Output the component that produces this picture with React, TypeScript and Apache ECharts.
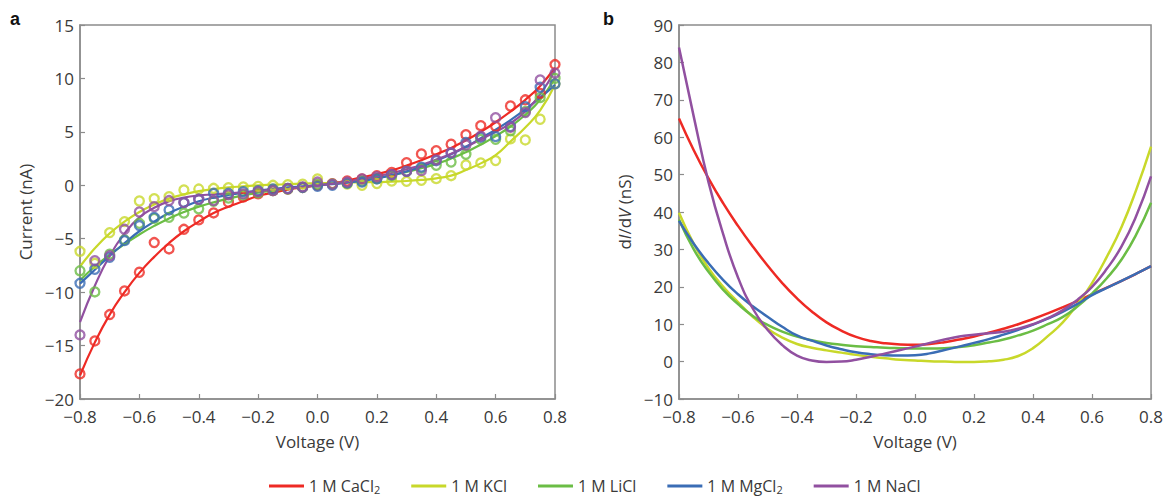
import React, { useEffect, useRef } from "react";
import * as echarts from "echarts";

// Shared voltage grid (V), step 0.05
const VOLT = [
  -0.8, -0.75, -0.7, -0.65, -0.6, -0.55, -0.5, -0.45, -0.4, -0.35, -0.3, -0.25, -0.2, -0.15, -0.1, -0.05,
  0, 0.05, 0.1, 0.15, 0.2, 0.25, 0.3, 0.35, 0.4, 0.45, 0.5, 0.55, 0.6, 0.65, 0.7, 0.75, 0.8,
];

const NAMES = ["1 M CaCl2", "1 M KCl", "1 M LiCl", "1 M MgCl2", "1 M NaCl"];
const COLORS = ["#ee2a24", "#c8d82a", "#6bbd45", "#3a6db5", "#9150a0"];

// Panel a: measured current points (nA)
const PTS_CACL2 = [-17.65, -14.57, -12.1, -9.89, -8.14, -5.36, -5.96, -4.12, -3.24, -2.59, -1.6, -1.1, -0.8, -0.5, -0.35, -0.2, 0, 0.15, 0.4, 0.6, 0.9, 1.2, 2.12, 2.93, 3.24, 3.84, 4.74, 5.58, 5.52, 7.42, 8.0, 8.6, 11.3];
const PTS_KCL = [-6.18, -7.3, -4.43, -3.4, -1.47, -1.25, -1.06, -0.44, -0.35, -0.28, -0.22, -0.15, -0.1, 0.0, 0.05, 0.1, 0.6, 0.1, 0.12, 0.0, 0.16, 0.4, 0.37, 0.47, 0.62, 0.9, 1.9, 2.09, 2.31, 4.34, 4.24, 6.18, 9.5];
const PTS_LICL = [-8.0, -9.98, -6.45, -5.1, -3.56, -3.1, -3.0, -2.6, -2.2, -1.5, -1.2, -0.9, -0.7, -0.5, -0.35, -0.2, 0.1, 0.1, 0.2, 0.4, 0.6, 0.9, 1.3, 1.6, 1.87, 2.18, 2.9, 4.3, 4.3, 5.1, 6.9, 8.2, 10.0];
const PTS_MGCL2 = [-9.17, -7.86, -6.74, -5.18, -3.77, -3.0, -2.31, -1.62, -1.31, -0.75, -0.75, -0.6, -0.5, -0.35, -0.3, -0.2, -0.1, 0.0, 0.2, 0.3, 0.6, 1.0, 1.3, 1.7, 2.3, 3.0, 4.0, 4.5, 4.55, 5.5, 7.36, 9.17, 9.5];
const PTS_NACL = [-14.0, -7.05, -6.6, -4.12, -2.5, -2.0, -1.43, -1.62, -1.31, -1.43, -0.9, -0.8, -0.6, -0.5, -0.3, -0.15, 0.3, 0.1, 0.3, 0.6, 0.8, 1.0, 1.3, 1.37, 2.37, 3.06, 3.77, 4.6, 6.33, 5.43, 6.8, 9.86, 10.5];

// Panel a: fitted curves (nA)
const FIT_CACL2 = [-17.8, -14.7, -12.1, -10.0, -8.2, -6.7, -5.4, -4.3, -3.4, -2.6, -2.0, -1.5, -1.0, -0.7, -0.4, -0.2, 0, 0.2, 0.45, 0.75, 1.05, 1.4, 1.85, 2.35, 2.9, 3.5, 4.2, 5.0, 5.9, 6.9, 8.0, 9.3, 11.0];
const FIT_KCL = [-7.6, -5.9, -4.5, -3.4, -2.5, -1.8, -1.25, -0.85, -0.55, -0.35, -0.2, -0.1, 0.0, 0.05, 0.1, 0.15, 0.2, 0.22, 0.25, 0.28, 0.3, 0.35, 0.4, 0.5, 0.65, 0.9, 1.43, 2.05, 2.83, 4.1, 5.4, 7.0, 9.4];
const FIT_LICL = [-8.9, -7.6, -6.5, -5.5, -4.6, -3.8, -3.1, -2.5, -2.0, -1.6, -1.25, -0.95, -0.7, -0.5, -0.3, -0.15, 0, 0.15, 0.3, 0.5, 0.7, 0.95, 1.25, 1.6, 2.0, 2.5, 3.1, 3.8, 4.6, 5.5, 6.6, 8.0, 10.0];
const FIT_MGCL2 = [-9.2, -7.9, -6.6, -5.4, -4.3, -3.4, -2.6, -2.0, -1.5, -1.15, -0.9, -0.7, -0.5, -0.35, -0.2, -0.1, 0, 0.1, 0.25, 0.4, 0.65, 0.95, 1.3, 1.75, 2.3, 2.9, 3.6, 4.4, 5.2, 6.1, 7.1, 8.2, 9.4];
const FIT_NACL = [-12.8, -9.4, -6.6, -4.5, -3.0, -2.1, -1.5, -1.15, -0.95, -0.85, -0.75, -0.65, -0.55, -0.4, -0.3, -0.15, 0, 0.15, 0.35, 0.6, 0.85, 1.15, 1.5, 1.9, 2.4, 2.95, 3.6, 4.3, 5.0, 5.8, 6.9, 8.5, 10.8];

// Panel b: differential conductance dI/dV (nS)
const G_CACL2 = [65.0, 56.5, 49.0, 42.3, 36.3, 30.8, 25.7, 21.0, 16.9, 13.4, 10.5, 8.3, 6.6, 5.5, 4.9, 4.6, 4.5, 4.7, 5.2, 5.9, 6.7, 7.7, 8.8, 10.0, 11.4, 12.9, 14.5, 16.2, 18.0, 19.8, 21.6, 23.5, 25.5];
const G_KCL = [39.8, 31.5, 25.0, 20.0, 15.9, 12.0, 8.8, 6.4, 4.7, 3.7, 3.0, 2.4, 1.8, 1.3, 0.9, 0.5, 0.3, 0.1, 0.0, -0.1, -0.1, 0.1, 0.5, 1.5, 3.6, 6.8, 10.4, 15.3, 21.0, 28.0, 36.0, 46.0, 57.5];
const G_LICL = [38.0, 30.0, 24.0, 19.2, 15.4, 12.2, 9.8, 8.0, 6.7, 5.7, 5.0, 4.5, 4.1, 3.9, 3.7, 3.6, 3.5, 3.5, 3.6, 3.9, 4.4, 5.1, 5.9, 7.0, 8.3, 10.0, 11.9, 14.7, 18.2, 22.3, 27.3, 34.0, 42.5];
const G_MGCL2 = [37.6, 31.5, 26.3, 21.8, 18.0, 14.8, 12.0, 9.3, 7.0, 5.6, 4.3, 3.3, 2.5, 2.0, 1.7, 1.6, 1.7, 2.2, 3.1, 4.0, 5.0, 6.0, 7.2, 8.5, 9.9, 11.5, 13.3, 15.4, 17.8, 19.7, 21.6, 23.5, 25.5];
const G_NACL = [84.0, 65.5, 48.0, 34.0, 22.5, 14.2, 8.5, 4.4, 1.6, 0.3, -0.1, 0.0, 0.5, 1.3, 2.2, 3.1, 4.0, 5.0, 5.9, 6.7, 7.2, 7.6, 8.0, 8.8, 10.0, 11.6, 13.7, 16.5, 20.0, 24.8, 30.8, 39.0, 49.5];

const X_TICKS = [-0.8, -0.6, -0.4, -0.2, 0, 0.2, 0.4, 0.6, 0.8];

const PTS = [PTS_CACL2, PTS_KCL, PTS_LICL, PTS_MGCL2, PTS_NACL];
const FITS = [FIT_CACL2, FIT_KCL, FIT_LICL, FIT_MGCL2, FIT_NACL];
const GS = [G_CACL2, G_KCL, G_LICL, G_MGCL2, G_NACL];

const FONT = "'Open Sans', 'Noto Sans', sans-serif";
const AXIS_GREY = "#8c8c8c";
const TEXT = "#3a3a3a";

const minus = (s: string) => s.replace("-", "\u2212");

function pairs(ys: number[]) {
  return VOLT.map((v, i) => [v, ys[i]]);
}

function xAxis(gridIndex: number) {
  return {
    type: "value",
    gridIndex,
    min: X_TICKS[0],
    max: X_TICKS[X_TICKS.length - 1],
    interval: 0.2,
    name: "Voltage (V)",
    nameLocation: "middle",
    nameGap: 34,
    nameTextStyle: { fontFamily: FONT, fontSize: 17, color: TEXT },
    axisLine: { show: true, onZero: false, lineStyle: { color: AXIS_GREY, width: 1.5 } },
    axisTick: { show: true, inside: true, length: 5, lineStyle: { color: AXIS_GREY, width: 1.2 } },
    axisLabel: {
      fontFamily: FONT,
      fontSize: 17,
      lineHeight: 14,
      color: TEXT,
      margin: 10,
      formatter: (v: number) => minus((Math.abs(v) < 1e-9 ? 0 : v).toFixed(1)),
    },
    splitLine: { show: false },
  };
}

function yAxis(gridIndex: number, min: number, max: number, interval: number, name: string, rich?: any) {
  return {
    type: "value",
    gridIndex,
    min,
    max,
    interval,
    name,
    nameLocation: "middle",
    nameGap: 46,
    nameRotate: 90,
    nameTextStyle: { fontFamily: FONT, fontSize: 17, color: TEXT, rich },
    axisLine: { show: true, onZero: false, lineStyle: { color: AXIS_GREY, width: 1.5 } },
    axisTick: { show: true, inside: true, length: 5, lineStyle: { color: AXIS_GREY, width: 1.2 } },
    axisLabel: {
      fontFamily: FONT,
      fontSize: 17,
      lineHeight: 14,
      color: TEXT,
      margin: 6,
      formatter: (v: number) => minus(String(v)),
    },
    splitLine: { show: false },
  };
}

export default function App() {
  const ref = useRef<HTMLDivElement>(null);

  useEffect(() => {
    document.body.style.margin = "0";
    const chart = echarts.init(ref.current!, null, { renderer: "svg" });

    const series: any[] = [];
    NAMES.forEach((name, k) => {
      series.push({
        name,
        type: "line",
        xAxisIndex: 0,
        yAxisIndex: 0,
        data: pairs(FITS[k]),
        smooth: true,
        showSymbol: false,
        lineStyle: { color: COLORS[k], width: 2.2 },
        itemStyle: { color: COLORS[k] },
        z: 2,
      });
    });
    NAMES.forEach((name, k) => {
      series.push({
        name,
        type: "scatter",
        xAxisIndex: 0,
        yAxisIndex: 0,
        data: pairs(PTS[k]),
        symbol: "circle",
        symbolSize: 9,
        itemStyle: { color: "rgba(255,255,255,0)", borderColor: COLORS[k], borderWidth: 2.3 },
        z: 3,
      });
    });
    NAMES.forEach((name, k) => {
      series.push({
        name,
        type: "line",
        xAxisIndex: 1,
        yAxisIndex: 1,
        data: pairs(GS[k]),
        smooth: true,
        showSymbol: false,
        lineStyle: { color: COLORS[k], width: 2.5 },
        itemStyle: { color: COLORS[k] },
        z: 2,
      });
    });

    chart.setOption({
      animation: false,
      backgroundColor: "#ffffff",
      grid: [
        { left: 80, top: 25, width: 475, height: 374, show: true, borderColor: AXIS_GREY, borderWidth: 1.5, backgroundColor: "transparent" },
        { left: 679, top: 25, width: 473, height: 374, show: true, borderColor: AXIS_GREY, borderWidth: 1.5, backgroundColor: "transparent" },
      ],
      xAxis: [xAxis(0), xAxis(1)],
      yAxis: [
        yAxis(0, -20, 15, 5, "Current (nA)"),
        yAxis(1, -10, 90, 10, "d{i|I}/d{i|V} (nS)", {
          i: { fontStyle: "italic", fontFamily: FONT, fontSize: 17, color: TEXT },
        }),
      ],
      legend: {
        data: NAMES.map((n, k) => ({ name: n, itemStyle: { color: COLORS[k] } })),
        left: 269,
        top: 477,
        padding: 0,
        selectedMode: false,
        icon: "rect",
        itemWidth: 35,
        itemHeight: 3,
        itemGap: 31,
        formatter: (n: string) => (n.endsWith("Cl2") ? n.slice(0, -1) + "{sub|2}" : n),
        textStyle: {
          fontFamily: FONT,
          fontSize: 16,
          color: TEXT,
          lineHeight: 18,
          rich: {
            sub: { fontFamily: FONT, fontSize: 11, color: TEXT, verticalAlign: "bottom", lineHeight: 18, padding: [7, 0, 0, 0] },
          },
        },
      },
      graphic: [
        { type: "text", left: 10, top: 10, style: { text: "a", font: "bold 18px 'Liberation Sans', Arial, sans-serif", fill: "#111" } },
        { type: "text", left: 603, top: 10, style: { text: "b", font: "bold 18px 'Liberation Sans', Arial, sans-serif", fill: "#111" } },
      ],
      series,
    });

    return () => chart.dispose();
  }, []);

  return <div ref={ref} style={{ width: 1166, height: 496 }} />;
}
